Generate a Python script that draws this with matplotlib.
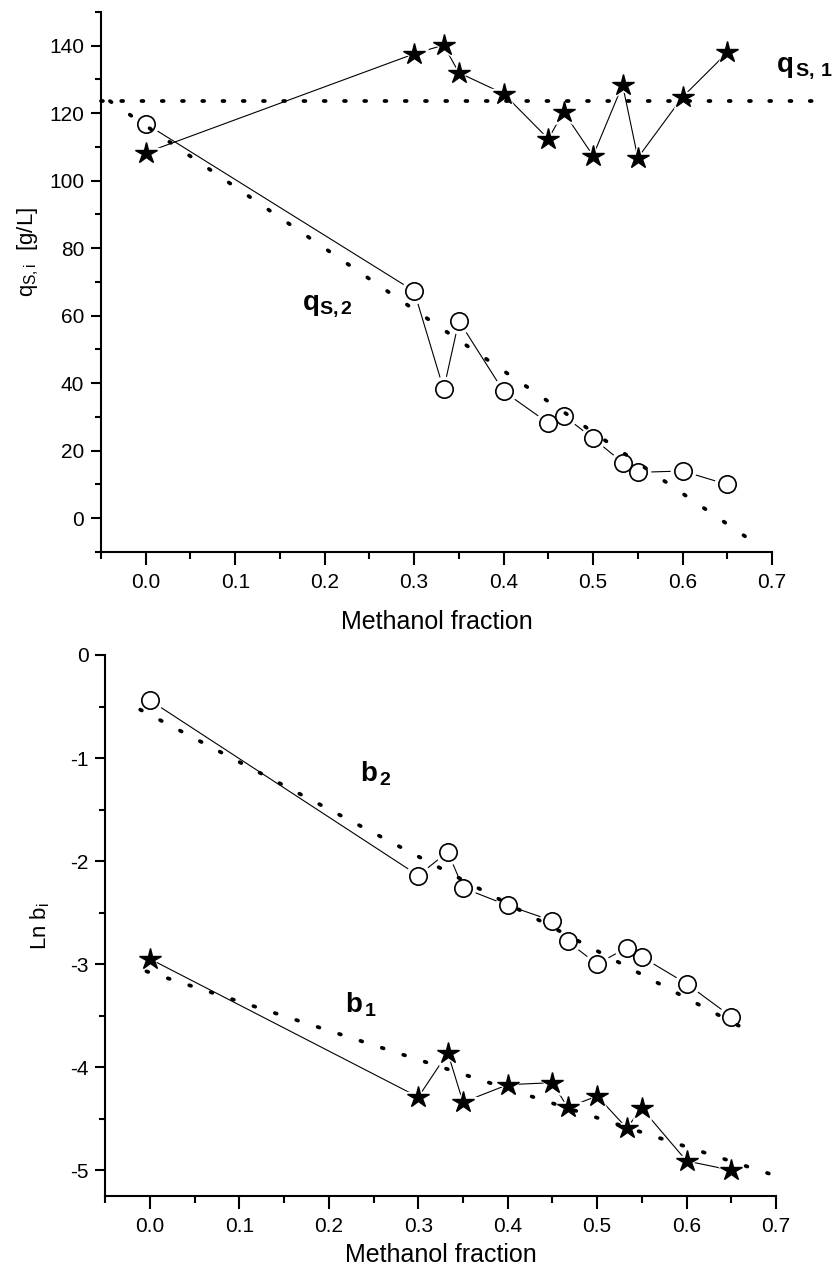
import matplotlib
matplotlib.use("Agg")
import matplotlib.pyplot as plt
from matplotlib.ticker import MultipleLocator

plt.rcParams['font.family'] = ['Liberation Sans', 'DejaVu Sans']
plt.rcParams['mathtext.fontset'] = 'custom'
plt.rcParams['mathtext.rm'] = 'Liberation Sans'
plt.rcParams['mathtext.it'] = 'Liberation Sans:italic'
plt.rcParams['mathtext.bf'] = 'Liberation Sans:bold'

# ---------------- data ----------------
methanol = [0.0, 0.30, 0.333, 0.35, 0.40, 0.45, 0.467, 0.50, 0.533, 0.55, 0.60, 0.65]

qs1 = [108.3, 137.6, 140.2, 132.0, 125.8, 112.4, 120.4, 107.4, 128.4, 106.8, 124.8, 138.0]
qs2 = [116.9, 67.3, 38.2, 58.5, 37.6, 28.2, 30.4, 23.7, 16.5, 13.6, 14.0, 10.0]
qs1_fit_x = [-0.05, 0.765]
qs1_fit_y = [123.6, 123.6]
qs2_fit_x = [-0.04, 0.69]
qs2_fit_y = [123.6, -9.0]

lnb2 = [-0.44, -2.14, -1.91, -2.26, -2.43, -2.58, -2.78, -3.00, -2.84, -2.93, -3.19, -3.51]
lnb1 = [-2.95, -4.29, -3.86, -4.34, -4.17, -4.15, -4.39, -4.28, -4.59, -4.40, -4.91, -5.00]
b2_fit_x = [-0.011, 0.672]
b2_fit_y = [-0.53, -3.66]
b1_fit_x = [-0.004, 0.702]
b1_fit_y = [-3.07, -5.06]

xticks = [0.0, 0.1, 0.2, 0.3, 0.4, 0.5, 0.6, 0.7]
top_yticks = [0, 20, 40, 60, 80, 100, 120, 140]
bot_yticks = [-5, -4, -3, -2, -1, 0]

# ---------------- figure ----------------
W, H = 836, 1270
fig = plt.figure(figsize=(W / 100, H / 100), dpi=100)

ax1 = fig.add_axes([101 / W, 1 - 552 / H, (772 - 101) / W, (552 - 12) / H])
ax2 = fig.add_axes([105.3 / W, 1 - 1196 / H, (776 - 105.3) / W, (1196 - 655) / H])


def style_axes(ax, ymajor, yminor):
    for s in ['top', 'right']:
        ax.spines[s].set_visible(False)
    for s in ['left', 'bottom']:
        ax.spines[s].set_linewidth(1.5)
    ax.xaxis.set_major_locator(MultipleLocator(0.1))
    ax.xaxis.set_minor_locator(MultipleLocator(0.05))
    ax.yaxis.set_major_locator(MultipleLocator(ymajor))
    ax.yaxis.set_minor_locator(MultipleLocator(yminor))
    ax.tick_params(which='major', direction='out', length=7, width=1.5,
                   labelsize=15, pad=5)
    ax.tick_params(which='minor', direction='out', length=4, width=1.5)
    ax.tick_params(axis='x', which='major', length=9, pad=6)
    ax.tick_params(axis='x', which='minor', length=5)
    ax.set_xlim(-0.05, 0.70)
    ax.set_xticks(xticks)
    ax.set_xticklabels([f"{v:.1f}" for v in xticks])


def series(ax, x, y, marker, ms, filled):
    ax.plot(x, y, color='black', lw=0.8, zorder=1)
    ax.plot(x, y, ls='none', marker=marker, ms=ms + 5, color='white',
            markeredgecolor='white', zorder=2)
    if filled:
        ax.plot(x, y, ls='none', marker=marker, ms=ms, color='black',
                markeredgecolor='black', zorder=4)
    else:
        ax.plot(x, y, ls='none', marker=marker, ms=ms, markerfacecolor='none',
                markeredgecolor='black', markeredgewidth=1.2, zorder=4)


def fitline(ax, x, y, gap):
    ax.plot(x, y, color='black', lw=2.7, ls=(0, (0.5, gap)),
            dash_capstyle='round', zorder=3, clip_on=False)


# ---- top panel ----
style_axes(ax1, 20, 10)
ax1.set_ylim(-10, 150)
ax1.set_yticks(top_yticks)
series(ax1, methanol, qs1, '*', 16, True)
series(ax1, methanol, qs2, 'o', 12.5, False)
fitline(ax1, qs1_fit_x, qs1_fit_y, 4.9)
fitline(ax1, qs2_fit_x, qs2_fit_y, 5.9)
ax1.set_xlabel('Methanol fraction', fontsize=18, labelpad=13)
ax1.text(0.705, 133.5, r'$\mathbf{q}_{\,\mathbf{S,\,1}}$', fontsize=20,
         ha='left', va='center', clip_on=False)
ax1.text(0.175, 63.0, r'$\mathbf{q}_{\mathbf{S,2}}$', fontsize=20,
         ha='left', va='center')
fig.text(28 / W, 1 - 252 / H, r'$\mathregular{q_{S,i}}$  [g/L]', fontsize=16,
         rotation=90, ha='center', va='center')

# ---- bottom panel ----
style_axes(ax2, 1, 0.5)
ax2.set_ylim(-5.25, 0)
ax2.set_yticks(bot_yticks)
ax2.set_yticklabels([f"{v:d}" for v in bot_yticks])
series(ax2, methanol, lnb2, 'o', 12.5, False)
series(ax2, methanol, lnb1, '*', 16, True)
fitline(ax2, b2_fit_x, b2_fit_y, 5.5)
fitline(ax2, b1_fit_x, b1_fit_y, 5.5)
ax2.set_xlabel('Methanol fraction', fontsize=18, labelpad=5)
ax2.text(0.235, -1.15, r'$\mathbf{b}_{\,\mathbf{2}}$', fontsize=20,
         ha='left', va='center')
ax2.text(0.218, -3.39, r'$\mathbf{b}_{\,\mathbf{1}}$', fontsize=20,
         ha='left', va='center')
fig.text(40 / W, 1 - 926 / H, r'Ln b$_\mathregular{i}$', fontsize=16,
         rotation=90, ha='center', va='center')

fig.savefig('out.png', dpi=100)
